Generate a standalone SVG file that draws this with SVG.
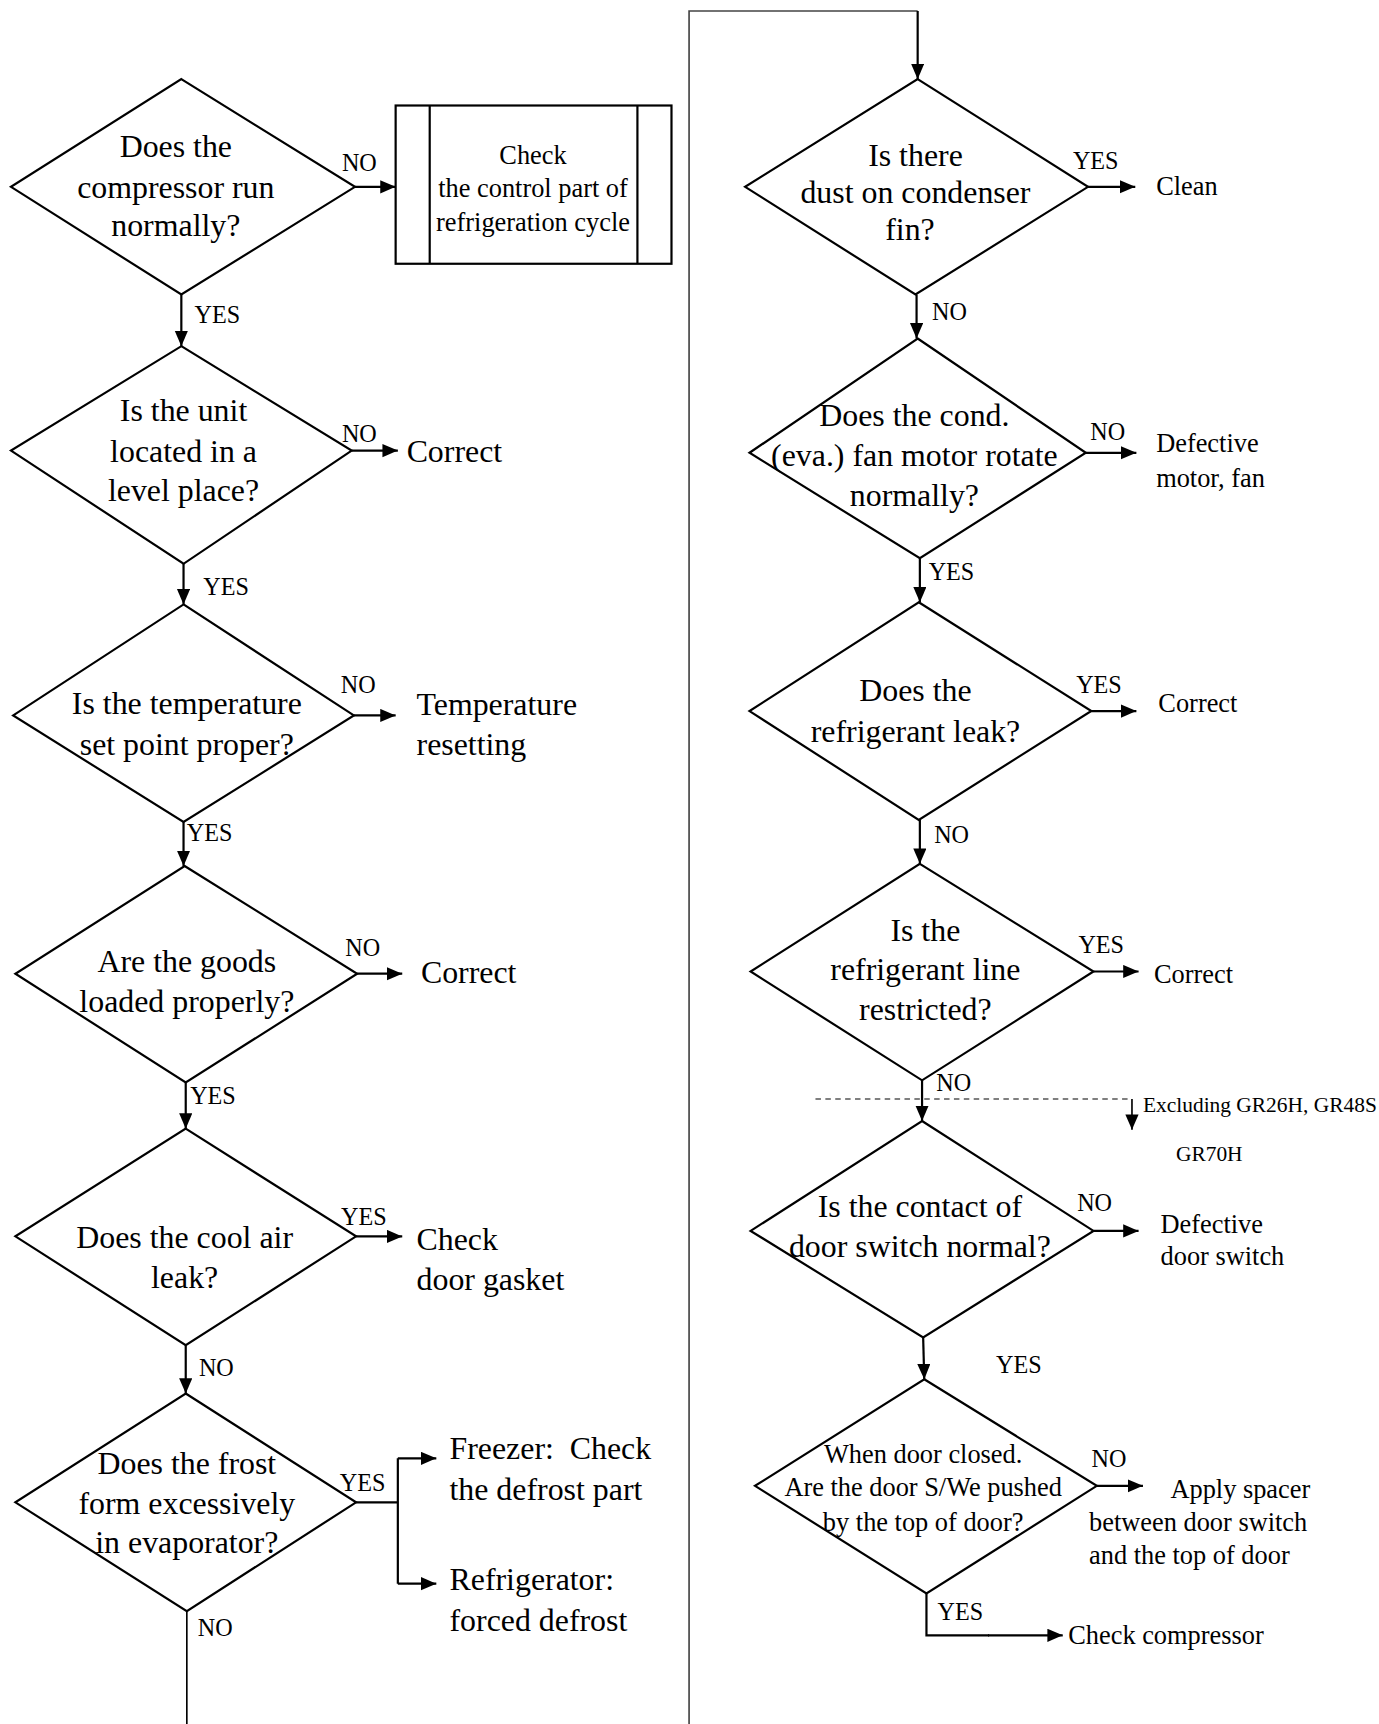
<svg xmlns="http://www.w3.org/2000/svg" width="1379" height="1724" viewBox="0 0 1379 1724">
<style>
.d{fill:#fff;stroke:#000;stroke-width:2}
.b{fill:#fff;stroke:#000;stroke-width:2}
.c{fill:none;stroke:#000;stroke-width:2}
.f{fill:none;stroke:#444;stroke-width:1.5}
.dash{fill:none;stroke:#000;stroke-width:1;stroke-dasharray:5 4}
text{font-family:"Liberation Serif","Times New Roman",serif;fill:#000}
.big{font-size:29px}
.mid{font-size:24px}
.lbl{font-size:22px}
.sm{font-size:19.5px}
.m{text-anchor:middle}
</style>
<defs>
<marker id="ah" markerUnits="userSpaceOnUse" markerWidth="15" markerHeight="13" refX="14" refY="6" orient="auto">
<path d="M0,0 L14,6 L0,12 z" fill="#000"/>
</marker>
</defs>
<rect width="1379" height="1724" fill="#fff"/>
<g transform="scale(1.099)">
<g id="connectors">
<path class="f" d="M627,1570 V10 H835"/>
<line class="c" x1="835" y1="10" x2="835" y2="72" marker-end="url(#ah)"/>
<line class="c" x1="323" y1="170" x2="360" y2="170" marker-end="url(#ah)"/>
<line class="c" x1="165" y1="268" x2="165" y2="315" marker-end="url(#ah)"/>
<line class="c" x1="320" y1="410" x2="362" y2="410" marker-end="url(#ah)"/>
<line class="c" x1="167" y1="513" x2="167" y2="550" marker-end="url(#ah)"/>
<line class="c" x1="322" y1="651" x2="360" y2="651" marker-end="url(#ah)"/>
<line class="c" x1="167" y1="748" x2="167" y2="788" marker-end="url(#ah)"/>
<line class="c" x1="325" y1="886" x2="366" y2="886" marker-end="url(#ah)"/>
<line class="c" x1="169" y1="985" x2="169" y2="1027" marker-end="url(#ah)"/>
<line class="c" x1="324" y1="1125" x2="366" y2="1125" marker-end="url(#ah)"/>
<line class="c" x1="169" y1="1224" x2="169" y2="1268" marker-end="url(#ah)"/>
<path class="c" d="M324,1367 H362 M362,1327 V1441"/>
<line class="c" x1="362" y1="1327" x2="397" y2="1327" marker-end="url(#ah)"/>
<line class="c" x1="362" y1="1441" x2="397" y2="1441" marker-end="url(#ah)"/>
<line class="c" x1="170" y1="1466" x2="170" y2="1572" style="stroke-width:1.5"/>
<line class="c" x1="990" y1="170" x2="1033" y2="170" marker-end="url(#ah)"/>
<line class="c" x1="834" y1="268" x2="834" y2="308" marker-end="url(#ah)"/>
<line class="c" x1="988" y1="412" x2="1034" y2="412" marker-end="url(#ah)"/>
<line class="c" x1="837" y1="508" x2="837" y2="548" marker-end="url(#ah)"/>
<line class="c" x1="993" y1="647" x2="1034" y2="647" marker-end="url(#ah)"/>
<line class="c" x1="837" y1="746" x2="837" y2="786" marker-end="url(#ah)"/>
<line class="c" x1="995" y1="884" x2="1036" y2="884" marker-end="url(#ah)"/>
<line class="c" x1="839" y1="983" x2="839" y2="1020" marker-end="url(#ah)"/>
<line class="dash" x1="742" y1="1000" x2="1030" y2="1000"/>
<line class="c" x1="1030" y1="1000" x2="1030" y2="1028" style="stroke-width:1.5" marker-end="url(#ah)"/>
<line class="c" x1="995" y1="1120" x2="1036" y2="1120" marker-end="url(#ah)"/>
<line class="c" x1="840" y1="1217" x2="841" y2="1255" marker-end="url(#ah)"/>
<line class="c" x1="998" y1="1352" x2="1040" y2="1352" marker-end="url(#ah)"/>
<path class="c" d="M843,1450 V1488 H900"/>
<line class="c" x1="899" y1="1488" x2="967" y2="1488" marker-end="url(#ah)"/>
</g>
<g id="labels">
<text class="lbl m" x="327" y="156">NO</text>
<text class="lbl" x="177" y="294">YES</text>
<text class="lbl m" x="327" y="402">NO</text>
<text class="lbl" x="185" y="541">YES</text>
<text class="lbl m" x="326" y="631">NO</text>
<text class="lbl" x="170" y="765">YES</text>
<text class="lbl m" x="330" y="870">NO</text>
<text class="lbl" x="173" y="1005">YES</text>
<text class="lbl m" x="331" y="1115">YES</text>
<text class="lbl" x="181" y="1252">NO</text>
<text class="lbl m" x="330" y="1357">YES</text>
<text class="lbl" x="180" y="1489">NO</text>
<text class="lbl m" x="997" y="154">YES</text>
<text class="lbl" x="848" y="291">NO</text>
<text class="lbl m" x="1008" y="400">NO</text>
<text class="lbl" x="845" y="528">YES</text>
<text class="lbl m" x="1000" y="631">YES</text>
<text class="lbl" x="850" y="767">NO</text>
<text class="lbl m" x="1002" y="867">YES</text>
<text class="lbl" x="852" y="993">NO</text>
<text class="lbl m" x="996" y="1102">NO</text>
<text class="lbl m" x="927" y="1249">YES</text>
<text class="lbl m" x="1009" y="1335">NO</text>
<text class="lbl" x="853" y="1474">YES</text>
<text class="sm" x="1040" y="1012">Excluding GR26H, GR48S</text>
<text class="sm" x="1070" y="1056">GR70H</text>
</g>
<g id="q1">
<polygon class="d" points="165,72 323,170 165,268 10,170"/>
<text class="big m" x="160" y="143">Does the</text>
<text class="big m" x="160" y="180">compressor run</text>
<text class="big m" x="160" y="215">normally?</text>
</g>
<g id="box-control">
<rect class="b" x="360" y="96" width="251" height="144"/>
<line class="c" x1="391" y1="96" x2="391" y2="240"/>
<line class="c" x1="580" y1="96" x2="580" y2="240"/>
<text class="mid m" x="485" y="149">Check</text>
<text class="mid m" x="485" y="179">the control part of</text>
<text class="mid m" x="485" y="210">refrigeration cycle</text>
</g>
<g id="q2">
<polygon class="d" points="165,315 320,410 167,513 10,410"/>
<text class="big m" x="167" y="383">Is the unit</text>
<text class="big m" x="167" y="420">located in a</text>
<text class="big m" x="167" y="456">level place?</text>
</g>
<g id="r2"><text class="big" x="370" y="420">Correct</text></g>
<g id="q3">
<polygon class="d" points="167,550 322,651 167,748 12,651"/>
<text class="big m" x="170" y="650">Is the temperature</text>
<text class="big m" x="170" y="687">set point proper?</text>
</g>
<g id="r3"><text class="big" x="379" y="651">Temperature</text><text class="big" x="379" y="687">resetting</text></g>
<g id="q4">
<polygon class="d" points="168,788 325,886 169,985 14,886"/>
<text class="big m" x="170" y="884">Are the goods</text>
<text class="big m" x="170" y="921">loaded properly?</text>
</g>
<g id="r4"><text class="big" x="383" y="894">Correct</text></g>
<g id="q5">
<polygon class="d" points="169,1027 324,1125 169,1224 14,1125"/>
<text class="big m" x="168" y="1136">Does the cool air</text>
<text class="big m" x="168" y="1172">leak?</text>
</g>
<g id="r5"><text class="big" x="379" y="1137">Check</text><text class="big" x="379" y="1174">door gasket</text></g>
<g id="q6">
<polygon class="d" points="169,1268 324,1367 170,1466 14,1367"/>
<text class="big m" x="170" y="1341">Does the frost</text>
<text class="big m" x="170" y="1378">form excessively</text>
<text class="big m" x="170" y="1413">in evaporator?</text>
</g>
<g id="r6a"><text class="big" x="409" y="1328" xml:space="preserve">Freezer:  Check</text><text class="big" x="409" y="1365">the defrost part</text></g>
<g id="r6b"><text class="big" x="409" y="1447">Refrigerator:</text><text class="big" x="409" y="1484">forced defrost</text></g>
<g id="q7">
<polygon class="d" points="835,72 990,170 833,268 678,170"/>
<text class="big m" x="833" y="151">Is there</text>
<text class="big m" x="833" y="185">dust on condenser</text>
<text class="big m" x="828" y="218">fin?</text>
</g>
<g id="r7"><text class="mid" x="1052" y="177">Clean</text></g>
<g id="q8">
<polygon class="d" points="835,308 988,412 837,508 682,412"/>
<text class="big m" x="832" y="388">Does the cond.</text>
<text class="big m" x="832" y="424">(eva.) fan motor rotate</text>
<text class="big m" x="832" y="460">normally?</text>
</g>
<g id="r8"><text class="mid" x="1052" y="411">Defective</text><text class="mid" x="1052" y="443">motor, fan</text></g>
<g id="q9">
<polygon class="d" points="836,548 993,647 836,746 682,647"/>
<text class="big m" x="833" y="638">Does the</text>
<text class="big m" x="833" y="675">refrigerant leak?</text>
</g>
<g id="r9"><text class="mid" x="1054" y="648">Correct</text></g>
<g id="q10">
<polygon class="d" points="837,786 995,884 839,983 683,884"/>
<text class="big m" x="842" y="856">Is the</text>
<text class="big m" x="842" y="892">refrigerant line</text>
<text class="big m" x="842" y="928">restricted?</text>
</g>
<g id="r10"><text class="mid" x="1050" y="894">Correct</text></g>
<g id="q11">
<polygon class="d" points="839,1020 995,1120 840,1217 683,1120"/>
<text class="big m" x="837" y="1107">Is the contact of</text>
<text class="big m" x="837" y="1144">door switch normal?</text>
</g>
<g id="r11"><text class="mid" x="1056" y="1122">Defective</text><text class="mid" x="1056" y="1151">door switch</text></g>
<g id="q12">
<polygon class="d" points="841,1255 998,1352 843,1450 687,1352"/>
<text class="mid m" x="840" y="1331">When door closed.</text>
<text class="mid m" x="840" y="1361">Are the door S/We pushed</text>
<text class="mid m" x="840" y="1393">by the top of door?</text>
</g>
<g id="r12"><text class="mid" x="1065" y="1363">Apply spacer</text><text class="mid" x="991" y="1393">between door switch</text><text class="mid" x="991" y="1423">and the top of door</text></g>
<g id="r13"><text class="mid" x="972" y="1496">Check compressor</text></g>
</g>
</svg>
